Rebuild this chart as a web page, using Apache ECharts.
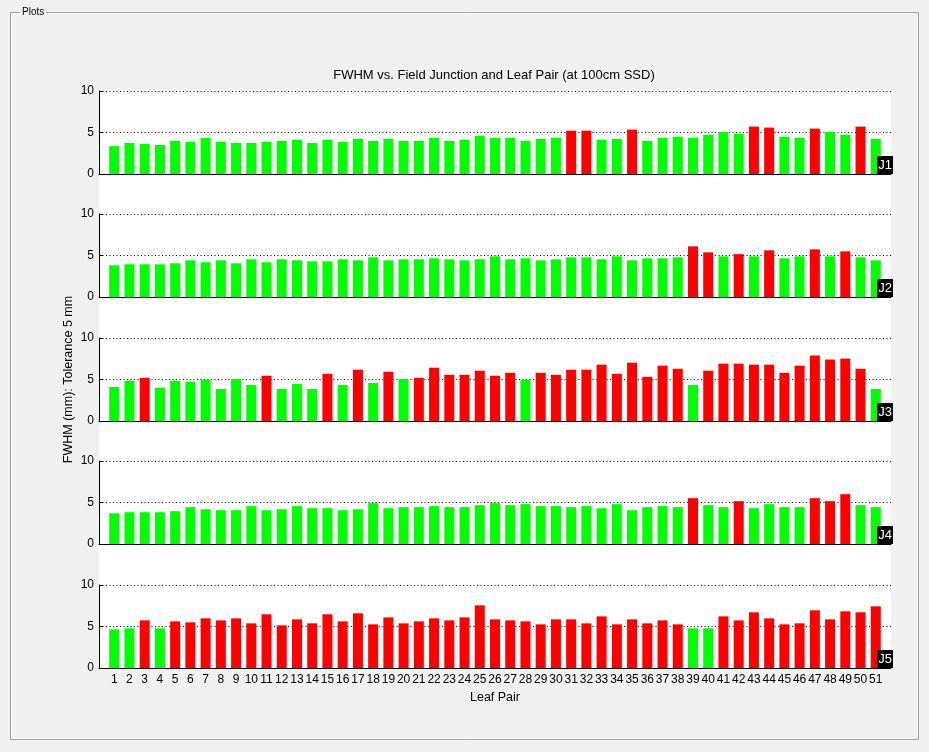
<!DOCTYPE html>
<html><head><meta charset="utf-8">
<script src="https://cdn.jsdelivr.net/npm/echarts@6/dist/echarts.min.js"></script>
<style>html,body{margin:0;padding:0;background:#f0f0f0}#c{width:929px;height:752px}</style>
</head><body><div id="c"></div>
<script>
// ---- data ----
const leafPairs = [1,2,3,4,5,6,7,8,9,10,11,12,13,14,15,16,17,18,19,20,21,22,23,24,25,26,27,28,29,30,31,32,33,34,35,36,37,38,39,40,41,42,43,44,45,46,47,48,49,50,51];
const junctions = ['J1','J2','J3','J4','J5'];
const j1 = [3.35,3.75,3.63,3.5,4.0,3.88,4.33,3.88,3.75,3.75,3.88,4.0,4.12,3.75,4.12,3.88,4.24,4.0,4.24,4.0,4.0,4.37,4.0,4.12,4.6,
            4.37,4.37,4.0,4.24,4.37,5.22,5.22,4.12,4.24,5.35,4.0,4.37,4.5,4.37,4.73,5.05,4.86,5.71,5.59,4.5,4.37,5.47,5.05,4.73,5.71,4.24];
const j2 = [3.82,3.94,3.94,3.94,4.06,4.42,4.18,4.42,4.06,4.54,4.18,4.54,4.42,4.3,4.3,4.54,4.42,4.78,4.42,4.54,4.54,4.66,4.54,4.42,4.54,
            4.9,4.54,4.66,4.42,4.54,4.78,4.78,4.54,4.9,4.42,4.66,4.66,4.78,6.1,5.38,4.9,5.16,4.9,5.62,4.66,4.9,5.74,4.9,5.5,4.78,4.42];
const j3 = [4.1,4.84,5.2,3.98,4.84,4.72,4.96,3.86,5.08,4.35,5.45,3.86,4.47,3.86,5.69,4.35,6.18,4.59,5.93,5.08,5.2,6.42,5.57,5.57,6.06,
            5.45,5.81,4.96,5.81,5.57,6.18,6.18,6.79,5.69,7.03,5.33,6.67,6.3,4.35,6.06,6.91,6.91,6.79,6.79,5.81,6.67,7.89,7.4,7.52,6.3,3.86];
const j4 = [3.7,3.83,3.83,3.83,3.95,4.44,4.19,4.07,4.07,4.56,4.07,4.19,4.56,4.31,4.31,4.07,4.19,4.92,4.31,4.44,4.44,4.56,4.44,4.44,4.68,
            4.92,4.68,4.8,4.56,4.56,4.44,4.56,4.31,4.8,4.07,4.44,4.56,4.44,5.52,4.68,4.44,5.16,4.31,4.8,4.44,4.44,5.52,5.16,6.0,4.68,4.44];
const j5 = [4.66,4.78,5.74,4.78,5.62,5.5,5.98,5.74,5.98,5.38,6.47,5.14,5.86,5.38,6.47,5.62,6.59,5.26,6.1,5.38,5.62,5.98,5.74,6.1,7.55,
            5.86,5.74,5.62,5.26,5.86,5.86,5.38,6.22,5.26,5.86,5.38,5.74,5.26,4.78,4.78,6.22,5.74,6.71,5.98,5.26,5.38,6.95,5.86,6.83,6.71,7.43];
const yMin = 0, yMax = 10, yStep = 5;
const xMin = 0, xMax = 52;
const passLimit = 5.12;
const titleText = 'FWHM vs. Field Junction and Leaf Pair (at 100cm SSD)';
const yName = 'FWHM (mm): Tolerance 5 mm';
const xName = 'Leaf Pair';
const frameLabel = 'Plots';

// ---- layout ----
const series = [j1, j2, j3, j4, j5];
const FONT = 'Liberation Sans, Arial, sans-serif';
const gLeft = 99, gWidth = 792, gHeight = 83;
const gTops = [91, 214, 338, 461, 585];
const GREEN = '#00ff00', RED = '#ff0000';

const grids = [], xAxes = [], yAxes = [], ser = [];
series.forEach((vals, k) => {
  grids.push({left: gLeft, top: gTops[k], width: gWidth, height: gHeight, containLabel: false});
  const last = k === series.length - 1;
  xAxes.push({
    type: 'value', gridIndex: k, min: xMin, max: xMax, interval: 1,
    axisLine: {show: true, onZero: false, lineStyle: {color: '#000', width: 1}},
    axisTick: {show: false}, splitLine: {show: false},
    axisLabel: {show: last, color: '#000', fontSize: 12, fontFamily: FONT, margin: 6,
      formatter: v => leafPairs.includes(v) ? String(v) : ''},
    name: last ? xName : '', nameLocation: 'middle', nameGap: 23,
    nameTextStyle: {color: '#000', fontSize: 12.5, fontFamily: FONT}
  });
  yAxes.push({
    type: 'value', gridIndex: k, min: yMin, max: yMax, interval: yStep,
    axisLine: {show: true, lineStyle: {color: '#000', width: 1}},
    axisTick: {show: true, inside: true, length: 4, lineStyle: {color: '#000'}},
    axisLabel: {color: '#000', fontSize: 12, fontFamily: FONT, margin: 5},
    splitLine: {show: true, lineStyle: {color: '#000', width: 1, type: [1, 2.5]}},
    name: k === 2 ? yName : '', nameLocation: 'middle', nameGap: 24, nameMoveOverlap: false,
    nameTextStyle: {color: '#000', fontSize: 12.5, fontFamily: FONT}
  });
  ser.push({
    type: 'bar', xAxisIndex: k, yAxisIndex: k, barWidth: 10,
    data: vals.map((v, i) => ({value: [leafPairs[i], v], itemStyle: {color: v > passLimit ? RED : GREEN}})),
    animation: false, silent: true
  });
});

const graphics = [
  {type: 'rect', z: -20, shape: {x: 10.5, y: 12.5, width: 908, height: 727}, style: {fill: 'none', stroke: '#a0a0a0', lineWidth: 1}},
  {type: 'rect', z: -20, shape: {x: 11.5, y: 13.5, width: 906, height: 725}, style: {fill: 'none', stroke: '#ffffff', lineWidth: 1}},
  {type: 'text', z: -19, style: {text: frameLabel, x: 20, y: 12, textVerticalAlign: 'middle', font: '10px ' + FONT, fill: '#000', backgroundColor: '#f0f0f0', padding: [0, 2]}},
  {type: 'rect', z: -10, shape: {x: gLeft, y: gTops[0], width: gWidth, height: gTops[4] + gHeight - gTops[0]}, style: {fill: '#ffffff'}},
  {type: 'text', z: 5, style: {text: titleText, x: 494, y: 75, textAlign: 'center', textVerticalAlign: 'middle', font: '13px ' + FONT, fill: '#000'}}
];
junctions.forEach((name, k) => {
  const bottom = gTops[k] + gHeight;
  graphics.push({type: 'rect', z: 20, shape: {x: 877, y: bottom - 18, width: 16, height: 18}, style: {fill: '#000'}});
  graphics.push({type: 'text', z: 21, style: {text: name, x: 892, y: bottom - 8.5, textAlign: 'right', textVerticalAlign: 'middle', font: '13px ' + FONT, fill: '#fff'}});
});

const chart = echarts.init(document.getElementById('c'), null, {renderer: 'canvas'});
chart.setOption({
  animation: false,
  backgroundColor: '#f0f0f0',
  grid: grids, xAxis: xAxes, yAxis: yAxes, series: ser,
  graphic: {elements: graphics}
});
</script></body></html>
